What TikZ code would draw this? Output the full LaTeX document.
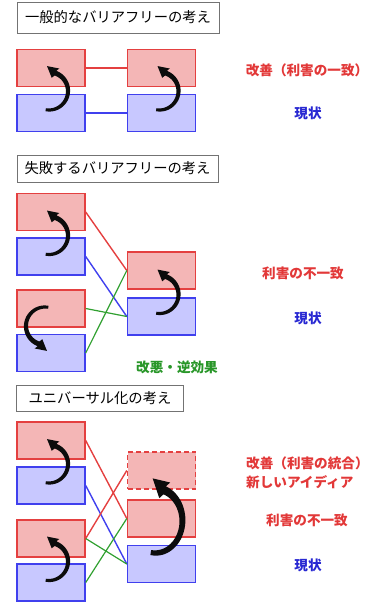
\documentclass[tikz,border=0pt]{standalone}
\usepackage{fontspec}
\setmainfont{Noto Sans CJK JP}
\usetikzlibrary{arrows.meta}
\definecolor{rfill}{RGB}{244,182,182}
\definecolor{rdraw}{RGB}{228,64,64}
\definecolor{bfill}{RGB}{200,200,255}
\definecolor{bdraw}{RGB}{64,64,238}
\definecolor{gline}{RGB}{48,160,48}
\definecolor{rtext}{RGB}{226,56,56}
\definecolor{btext}{RGB}{40,40,210}
\definecolor{gtext}{RGB}{40,150,40}
\definecolor{arrblack}{RGB}{12,12,12}
\begin{document}
\begin{tikzpicture}[x=1pt,y=-1pt,
  rbox/.style={rectangle,draw=rdraw,fill=rfill,line width=1.4pt,minimum width=68pt,minimum height=37pt,inner sep=0pt},
  bbox/.style={rectangle,draw=bdraw,fill=bfill,line width=1.4pt,minimum width=68pt,minimum height=37pt,inner sep=0pt},
  dbox/.style={rbox,dashed,dash pattern=on 5pt off 3pt},
  ttl/.style={rectangle,draw=black!55,fill=white,line width=1pt,inner sep=0pt,font=\fontsize{14.3pt}{16pt}\selectfont},
  lbl/.style={inner sep=0pt,font=\bfseries\fontsize{13.6pt}{16pt}\selectfont},
  rline/.style={draw=rdraw,line width=1.4pt},
  bline/.style={draw=bdraw,line width=1.4pt},
  gline/.style={draw=gline,line width=1.2pt},
  curarr/.pic={
    \fill[arrblack]
      plot[domain=100:-70,samples=36] ({-2+(20.5+(100-\x)/170)*cos(\x)},{1+(20.5+(100-\x)/170)*sin(\x)})
      -- (8.34,-21.47) -- (-3.97,-23.9) -- (0.66,-12.23)
      -- plot[domain=-70:100,samples=36] ({-2+(17.5-(100-\x)/170)*cos(\x)},{1+(17.5-(100-\x)/170)*sin(\x)})
      -- cycle;
  }]
\useasboundingbox (0,0) rectangle (374,603);

% ---------- Section 1 ----------
\node[ttl,minimum width=202pt,minimum height=31pt] (t1) at (118,17.5) {一般的なバリアフリーの考え};
\node[rbox] (a1) at (51,68) {};
\node[bbox] (a2) at (51,113) {};
\node[rbox] (a3) at (161.5,68) {};
\node[bbox] (a4) at (161.5,113) {};
\draw[rline] (a1.east) -- (a3.west);
\draw[bline] (a2.east) -- (a4.west);
\pic at (51,90) {curarr};
\pic at (161.5,90) {curarr};
\node[lbl,text=rtext] (l1) at (307,70) {改善（利害の一致）};
\node[lbl,text=btext] (l2) at (308,113) {現状};

% ---------- Section 2 ----------
\node[ttl,minimum width=201pt,minimum height=27pt] (t2) at (117.5,168.5) {失敗するバリアフリーの考え};
\node[rbox] (b1) at (51,212) {};
\node[bbox] (b2) at (51,256.5) {};
\node[rbox] (b3) at (51,308.5) {};
\node[bbox] (b4) at (51,353) {};
\node[rbox] (b5) at (161.5,270.5) {};
\node[bbox] (b6) at (161.5,316.5) {};
\draw[rline] (b1.east) -- (b5.west);
\draw[bline] (b2.east) -- (b6.west);
\draw[gline] (b3.east) -- (b6.west);
\draw[gline] (b4.east) -- (b5.west);
\pic at (51,234.5) {curarr};
\pic[rotate=180] at (43,327) {curarr};
\pic at (161.5,293.5) {curarr};
\node[lbl,text=rtext] (l3) at (303,273) {利害の不一致};
\node[lbl,text=btext] (l4) at (308,318) {現状};
\node[lbl,text=gtext] (l5) at (177,367) {改悪・逆効果};

% ---------- Section 3 ----------
\node[ttl,minimum width=167pt,minimum height=26pt] (t3) at (100,398) {ユニバーサル化の考え};
\node[rbox] (c1) at (51,440.5) {};
\node[bbox] (c2) at (51,485.5) {};
\node[rbox] (c3) at (51,538.5) {};
\node[bbox] (c4) at (51,582.5) {};
\node[dbox] (c5) at (161.5,470.5) {};
\node[rbox] (c6) at (161.5,518.5) {};
\node[bbox] (c7) at (161.5,564) {};
\draw[rline] (c1.east) -- (c6.west);
\draw[bline] (c2.east) -- (c7.west);
\draw[rline] (c3.east) -- (c5.west);
\draw[gline] (c3.east) -- (c7.west);
\draw[gline] (c4.east) -- (c6.west);
\pic at (51,463) {curarr};
\pic at (51,560.5) {curarr};
\pic[xscale=1.42,yscale=1.7] at (158.3,519) {curarr};
\node[lbl,text=rtext,anchor=west] (l6) at (246,463) {改善（利害の統合）};
\node[lbl,text=rtext,anchor=west] (l7) at (246,482) {新しいアイディア};
\node[lbl,text=rtext] (l8) at (307,520) {利害の不一致};
\node[lbl,text=btext] (l9) at (308,565) {現状};
\end{tikzpicture}
\end{document}
